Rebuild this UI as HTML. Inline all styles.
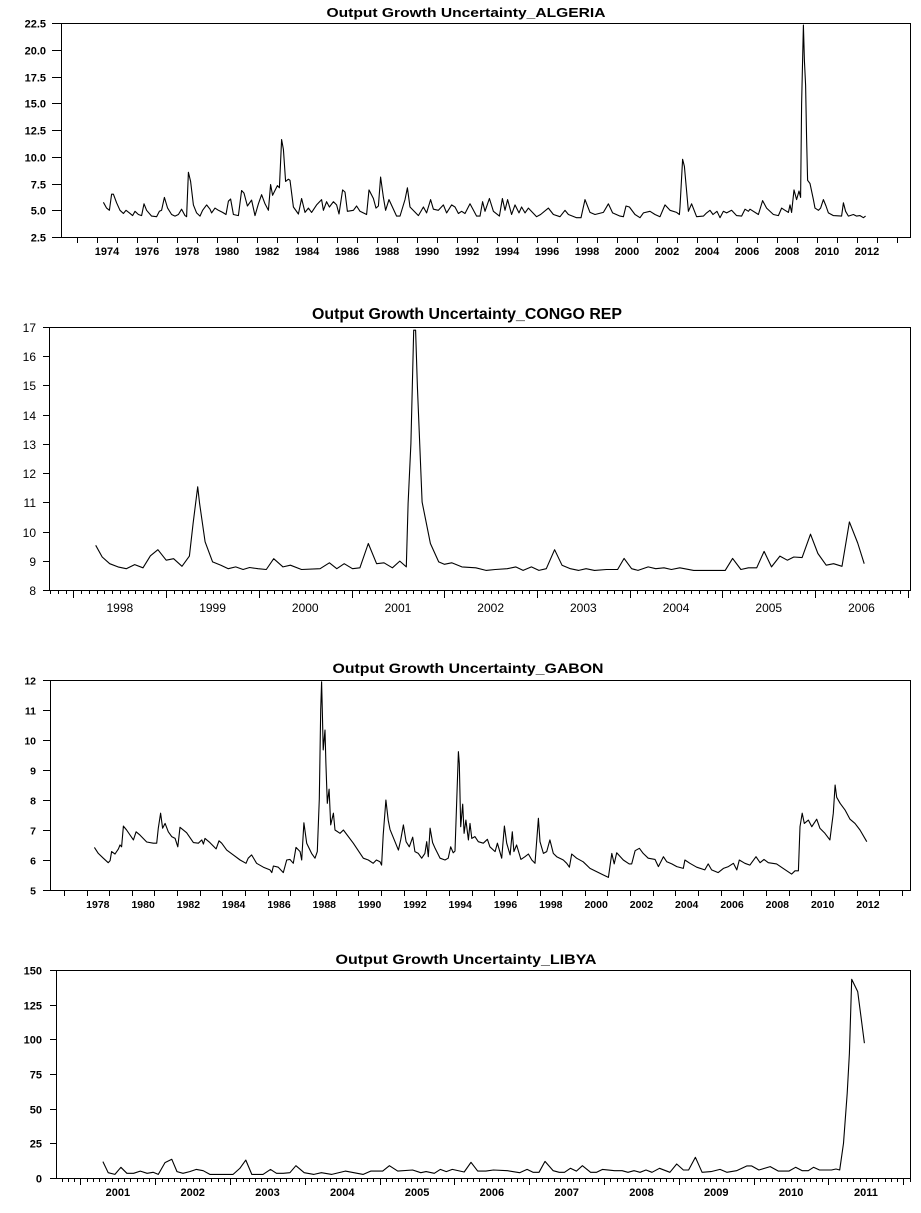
<!DOCTYPE html>
<html><head><meta charset="utf-8">
<style>
html,body{margin:0;padding:0;background:#fff;}
svg{display:block;font-family:"Liberation Sans",Arial,sans-serif;}
</style></head>
<body>
<svg id="chart" width="921" height="1213" viewBox="0 0 921 1213" xmlns="http://www.w3.org/2000/svg"></svg>
<script>
// ---------- ALGERIA ----------
const algeriaDates = [1973.82,1973.98,1974.12,1974.23,1974.32,1974.48,1974.65,1974.82,1974.95,1975.12,1975.28,1975.4,1975.57,1975.73,1975.85,1975.98,1976.23,1976.48,1976.62,1976.73,1976.87,1977.03,1977.23,1977.4,1977.57,1977.73,1977.9,1977.98,1978.07,1978.18,1978.32,1978.48,1978.65,1978.78,1978.98,1979.15,1979.23,1979.4,1979.57,1979.78,1979.95,1980.07,1980.18,1980.32,1980.57,1980.73,1980.85,1981.02,1981.23,1981.4,1981.57,1981.73,1981.9,1982.07,1982.18,1982.28,1982.52,1982.62,1982.73,1982.82,1982.93,1983.07,
1983.15,1983.32,1983.57,1983.73,1983.9,1984.07,1984.23,1984.48,1984.73,1984.82,1984.98,1985.12,1985.32,1985.48,1985.6,1985.78,1985.9,1986.02,1986.32,1986.48,1986.65,1986.98,1987.1,1987.32,1987.45,1987.57,1987.68,1987.82,1987.93,1988.1,1988.48,1988.65,1988.9,1989.02,1989.15,1989.57,1989.82,1989.98,1990.18,1990.32,1990.57,1990.82,1990.98,1991.23,1991.4,1991.57,1991.73,1991.9,1992.15,1992.48,1992.65,1992.78,1992.9,1993.12,1993.32,1993.62,1993.77,1993.9,1994.03,1994.23,1994.4,1994.6,1994.73,1994.9,1995.07,1995.48,1995.68,1996.07,1996.32,1996.65,1996.9,1997.07,1997.48,1997.7,1997.9,1998.15,1998.4,1998.82,1999.07,1999.28,1999.65,1999.82,1999.95,2000.12,2000.4,2000.65,2000.82,2001.15,2001.4,2001.65,2001.9,2002.15,2002.48,2002.62,2002.65,2002.78,2002.87,2002.98,2003.07,2003.23,2003.48,2003.82,2003.98,2004.15,
2004.3,2004.5,2004.65,2004.82,2004.98,2005.23,2005.48,2005.73,2005.9,2006.07,2006.15,2006.57,2006.78,2006.98,2007.32,2007.57,2007.73,2007.9,2008.07,2008.15,2008.23,2008.35,2008.48,2008.6,2008.68,2008.73,2008.82,2008.87,2008.93,2008.98,2009.03,2009.15,2009.32,2009.4,2009.57,2009.68,2009.82,2009.95,2010.07,2010.32,2010.73,2010.82,2010.93,2011.07,2011.32,2011.48,2011.65,2011.82,2011.93];
const algeriaValues = [5.74,5.2,5.0,6.5,6.5,5.7,5.0,4.7,5.0,4.75,4.5,4.9,4.6,4.5,5.6,5.0,4.45,4.4,4.9,5.0,6.2,5.2,4.6,4.45,4.6,5.1,4.5,4.4,8.55,7.7,5.5,4.75,4.45,5.0,5.5,5.1,4.75,5.2,5.0,4.8,4.6,5.85,6.05,4.6,4.5,6.85,6.6,5.4,5.95,4.5,5.6,6.45,5.6,5.0,7.4,6.4,7.3,7.1,11.6,10.7,7.7,7.9,
7.8,5.3,4.65,6.1,4.8,5.2,4.8,5.5,6.0,5.0,5.8,5.3,5.8,5.5,4.65,6.9,6.7,4.9,5.0,5.4,4.9,4.6,6.9,6.1,5.2,5.4,8.1,6.2,5.0,6.0,4.45,4.45,6.0,7.1,5.3,4.5,5.3,4.75,6.0,5.1,5.0,5.5,4.75,5.5,5.3,4.7,4.9,4.7,5.6,4.45,4.45,5.8,4.9,6.1,4.9,4.45,6.1,5.0,6.0,4.6,5.5,4.75,5.3,4.75,5.2,4.4,4.6,5.2,4.6,4.4,5.0,4.6,4.3,4.3,6.0,4.8,4.6,4.8,5.6,4.75,4.45,4.4,5.4,5.3,4.6,4.3,4.75,4.9,4.6,4.4,5.5,5.0,4.8,4.6,5.3,9.76,9.1,6.8,4.9,5.6,4.4,4.45,4.75,5.0,
4.6,4.9,4.3,4.9,4.75,5.0,4.5,4.45,5.1,4.9,5.1,4.6,5.9,5.2,4.6,4.5,5.2,5.0,4.8,5.5,4.8,6.9,6.0,6.8,6.2,14.9,22.3,19.0,16.7,11.7,7.8,7.5,6.0,5.2,5.0,5.2,6.0,5.4,4.75,4.5,4.45,5.7,4.9,4.45,4.6,4.45,4.5,4.3,4.45];
const algeriaYTicks = [2.5,5.0,7.5,10.0,12.5,15.0,17.5,20.0,22.5];
const algeriaXLabels = [1974,1976,1978,1980,1982,1984,1986,1988,1990,1992,1994,1996,1998,2000,2002,2004,2006,2008,2010,2012];

// ---------- CONGO REP ----------
const congoDates = [1998.24,1998.31,1998.39,1998.48,1998.57,1998.66,1998.75,1998.83,1998.91,1999.0,1999.08,1999.17,1999.25,1999.29,1999.34,1999.36,1999.42,1999.5,1999.59,1999.67,1999.75,1999.83,1999.9,1999.99,2000.08,2000.16,2000.26,
2000.34,2000.46,2000.66,2000.76,2000.84,2000.92,2001.01,2001.09,2001.18,2001.27,2001.35,2001.44,2001.52,2001.59,2001.61,2001.64,2001.67,2001.69,2001.71,2001.76,2001.85,2001.94,2002.0,2002.08,2002.19,2002.34,2002.45,2002.55,2002.68,2002.77,2002.85,2002.94,2003.02,2003.10,2003.19,2003.27,2003.36,2003.45,2003.53,2003.62,2003.75,2003.87,2003.94,2004.02,2004.09,2004.20,2004.28,2004.37,2004.45,2004.54,2004.69,2005.03,2005.11,2005.20,2005.28,2005.37,2005.45,2005.53,2005.62,2005.70,2005.77,2005.86,2005.95,2006.03,2006.12,2006.20,2006.29,2006.37,2006.46,2006.53];
const congoValues = [9.53,9.13,8.9,8.79,8.73,8.87,8.76,9.17,9.38,9.02,9.07,8.81,9.16,10.28,11.53,10.96,9.65,8.96,8.85,8.73,8.79,8.7,8.77,8.73,8.7,9.07,8.79,
8.85,8.70,8.73,8.93,8.73,8.90,8.73,8.76,9.59,8.90,8.93,8.76,8.99,8.79,10.96,13.01,16.89,16.89,14.95,11.01,9.59,8.96,8.88,8.93,8.79,8.76,8.67,8.70,8.73,8.79,8.67,8.79,8.67,8.73,9.38,8.85,8.73,8.67,8.73,8.67,8.70,8.70,9.08,8.73,8.67,8.79,8.73,8.76,8.70,8.76,8.67,8.67,9.08,8.70,8.76,8.76,9.32,8.79,9.16,9.02,9.13,9.11,9.91,9.25,8.85,8.90,8.81,10.33,9.61,8.90];
const congoYTicks = [8,9,10,11,12,13,14,15,16,17];
const congoXLabels = [1998,1999,2000,2001,2002,2003,2004,2005,2006];

// ---------- GABON ----------
const gabonDates = [1978.35,1978.52,1978.74,1978.96,1979.04,1979.11,1979.26,1979.41,1979.48,1979.55,1979.63,1979.77,1980.07,1980.19,1980.36,1980.66,1980.95,1981.1,1981.17,1981.27,1981.36,1981.47,1981.61,1981.76,1981.91,1982.03,1982.13,1982.42,1982.72,1982.94,1983.09,1983.16,1983.23,1983.45,1983.72,1983.85,1983.97,1984.19,1984.48,1984.78,1985.04,1985.14,1985.29,1985.51,1985.81,1986.1,1986.18,1986.25,1986.47,1986.69,1986.84,1986.98,1987.13,1987.25,1987.43,1987.5,1987.6,1987.72,1987.94,1988.09,1988.19,1988.28,1988.34,1988.38,1988.41,1988.45,1988.53,1988.57,1988.63,1988.71,1988.78,1988.9,1988.97,1989.19,1989.34,1989.78,1990.22,1990.44,1990.66,1990.8,1990.96,1991.03,1991.1,1991.22,1991.32,
1991.40,1991.62,1991.77,1991.87,1991.99,1992.11,1992.25,1992.40,1992.50,1992.65,1992.80,1992.94,1993.02,1993.09,1993.17,1993.28,1993.39,1993.61,1993.83,1993.97,1994.08,1994.19,1994.27,1994.42,1994.46,1994.52,1994.61,1994.67,1994.75,1994.86,1994.93,1995.01,1995.15,1995.30,1995.52,1995.70,1995.81,1996.04,1996.14,1996.33,1996.45,1996.55,1996.70,1996.80,1996.87,1996.99,1997.18,1997.36,1997.51,1997.66,1997.80,1997.95,1998.02,1998.17,1998.32,1998.46,1998.61,1998.76,1999.05,1999.20,1999.32,1999.42,1999.64,1999.93,2000.23,2000.53,2000.82,2001.04,2001.19,2001.30,2001.41,2001.70,2001.96,2002.07,2002.22,2002.41,2002.58,2002.80,2003.10,2003.25,2003.47,2003.62,2003.84,2004.06,2004.35,2004.42,2004.64,2004.94,2005.30,2005.45,2005.60,2005.89,2006.12,2006.34,2006.56,2006.71,2006.82,2007.07,2007.29,2007.56,2007.74,2007.91,2008.10,2008.47,2008.76,2009.13,2009.28,2009.43,2009.50,2009.60,2009.69,2009.87,2010.02,2010.24,2010.38,2010.60,2010.82,2010.97,2011.05,2011.12,2011.27,2011.49,2011.71,2011.93,2012.15,2012.45];
const gabonValues = [6.42,6.22,6.06,5.91,5.98,6.28,6.2,6.37,6.5,6.44,7.13,7.0,6.67,6.94,6.83,6.6,6.56,6.56,7.06,7.56,7.06,7.22,6.94,6.78,6.72,6.44,7.09,6.91,6.58,6.56,6.67,6.53,6.72,6.58,6.37,6.64,6.56,6.33,6.17,6.0,5.89,6.06,6.17,5.89,5.76,5.67,5.58,5.8,5.76,5.58,6.0,6.02,5.89,6.42,6.28,6.0,7.24,6.56,6.22,6.06,6.28,8.03,11.0,11.94,11.0,9.67,10.33,9.22,7.89,8.36,7.17,7.56,7.0,6.89,7.0,6.56,6.06,6.0,5.89,6.0,5.94,5.83,6.83,8.0,7.33,
7.02,6.61,6.33,6.67,7.17,6.61,6.44,6.76,6.28,6.22,6.06,6.22,6.61,6.11,7.06,6.58,6.39,6.06,6.0,6.06,6.44,6.24,6.3,9.61,9.22,7.11,7.86,6.89,7.33,6.67,7.22,6.72,6.78,6.61,6.56,6.69,6.44,6.28,6.56,6.06,7.13,6.56,6.17,6.94,6.28,6.5,6.02,6.11,6.2,6.0,5.89,7.39,6.61,6.22,6.28,6.67,6.22,6.11,6.0,5.89,5.76,6.2,6.06,5.94,5.72,5.61,5.5,5.42,6.22,5.87,6.24,6.0,5.87,5.87,6.31,6.39,6.22,6.06,6.02,5.78,6.11,5.94,5.87,5.78,5.72,6.0,5.89,5.76,5.67,5.87,5.67,5.58,5.72,5.78,5.89,5.67,6.0,5.89,5.83,6.11,5.91,6.02,5.91,5.87,5.72,5.53,5.64,5.64,7.11,7.56,7.22,7.33,7.11,7.36,7.06,6.89,6.67,7.56,8.5,8.09,7.89,7.67,7.36,7.22,7.0,6.61];
const gabonYTicks = [5,6,7,8,9,10,11,12];
const gabonXLabels = [1978,1980,1982,1984,1986,1988,1990,1992,1994,1996,1998,2000,2002,2004,2006,2008,2010,2012];

// ---------- LIBYA ----------
const libyaDates = [2001.30,2001.37,2001.46,2001.54,2001.62,2001.71,2001.80,2001.89,2001.97,2002.04,2002.13,2002.22,2002.29,2002.37,2002.46,2002.55,2002.64,2002.73,2002.86,2002.95,2003.04,2003.13,2003.21,2003.29,2003.44,2003.54,2003.62,2003.71,2003.80,2003.88,2003.99,2004.12,2004.22,2004.36,2004.54,2004.78,2004.88,2005.04,2005.13,2005.24,2005.44,2005.55,2005.62,2005.73,2005.81,2005.89,2005.97,2006.13,2006.22,2006.31,2006.42,2006.52,2006.71,2006.87,2006.97,2007.05,2007.13,2007.21,2007.32,2007.40,2007.47,2007.55,2007.63,2007.71,2007.82,2007.90,2007.98,2008.14,2008.24,2008.32,2008.40,2008.48,2008.56,2008.64,2008.74,2008.88,2008.97,2009.06,2009.13,2009.22,2009.31,2009.43,2009.55,2009.64,2009.77,2009.91,2009.97,2010.07,2010.22,2010.33,2010.47,2010.56,2010.65,2010.73,2010.80,2010.88,2011.04,2011.10,2011.15,2011.20,2011.25,2011.28,2011.31,2011.39,2011.44,2011.48];
const libyaValues = [11.8,3.8,2.6,7.7,3.4,3.4,5.0,3.4,4.1,2.6,11.1,13.5,4.6,3.4,4.6,6.2,5.3,2.6,2.6,2.6,2.6,6.9,12.9,2.6,2.6,6.2,3.4,3.4,3.8,8.9,3.8,2.6,3.8,2.6,5.0,2.6,5.0,5.0,8.9,5.0,5.8,3.8,4.6,3.4,6.2,4.6,6.2,4.3,11.3,5.0,5.0,5.8,5.3,3.8,6.2,4.1,4.1,12.0,5.3,4.1,4.1,7.0,5.0,8.9,4.1,4.1,6.2,5.3,5.3,4.1,5.3,4.1,5.8,4.1,7.0,4.1,10.1,5.8,5.8,14.9,4.1,4.6,6.2,4.1,5.3,8.7,8.7,5.8,8.2,5.0,5.0,7.7,5.3,5.3,7.7,5.8,5.8,6.5,5.8,25.0,61.1,89.9,143.3,134.4,114.0,97.2];
const libyaYTicks = [0,25,50,75,100,125,150];
const libyaXLabels = [2001,2002,2003,2004,2005,2006,2007,2008,2009,2010,2011];

const NS = 'http://www.w3.org/2000/svg';
const svg = document.getElementById('chart');
function mk(tag, attrs, parent){
  const e = document.createElementNS(NS, tag);
  for (const k in attrs) e.setAttribute(k, attrs[k]);
  (parent||svg).appendChild(e);
  return e;
}

function drawPanel(p, dates, values, yTicks, xLabels){
  const g = mk('g', {});
  
  
  const yS = v => p.bottom - (v - p.ymin) / (p.ymax - p.ymin) * (p.bottom - p.top);
  const xS = t => p.x0 + (t - p.t0) * p.pxYear;

  const title = mk('text', {x: p.titleX, y: p.titleY, 'text-anchor':'middle', 'font-size': p.titleSize, 'font-weight':'bold', fill:'#000', textLength: p.titleLen, lengthAdjust:'spacingAndGlyphs'}, g);
  title.textContent = p.title;
  
  

  const box = mk('rect', {x: p.left + 0.5, y: p.top + 0.5, width: p.right - p.left, height: p.bottom - p.top, fill:'none', stroke:'#000', 'stroke-width':1}, g);
  
  

  yTicks.forEach(v => {
    const y = Math.round(yS(v)) + 0.5;
    mk('line', {x1: p.left - p.ytickLen, x2: p.left, y1: y, y2: y, stroke:'#000'}, g);
    const t = mk('text', {x: p.ylabRight, y: y + p.labSize*0.36, 'text-anchor':'end', 'font-size': p.labSize, 'font-weight': p.labWeight, fill:'#000'}, g);
    t.textContent = p.yFmt(v);
    
    
  });

  // x ticks
  for (let t = p.tickStart; t <= p.tickEnd + 1e-6; t += p.tickStep) {
    const x = xS(t);
    if (x < p.left || x > p.right) continue;
    const major = p.majorEvery ? Math.abs(t - Math.round(t)) < 1e-6 : true;
    const xx = Math.round(x) + 0.5;
    mk('line', {x1: xx, x2: xx, y1: p.bottom, y2: p.bottom + (major ? p.majorLen : p.minorLen), stroke:'#000'}, g);
  }
  xLabels.forEach(yr => {
    const t = mk('text', {x: xS(yr + p.labelOffset), y: p.xlabY, 'text-anchor':'middle', 'font-size': p.labSize, 'font-weight': p.labWeight, fill:'#000'}, g);
    t.textContent = yr;
    
    
  });

  let d = '';
  dates.forEach((t, i) => { d += (i ? 'L' : 'M') + xS(t).toFixed(1) + ',' + yS(values[i]).toFixed(1); });
  const line = mk('path', {d: d, fill:'none', stroke:'#000', 'stroke-width':1.1, 'stroke-linejoin':'round'}, g);
  
  
}

drawPanel({name:'algeria', title:'Output Growth Uncertainty_ALGERIA', titleX:466, titleY:17, titleSize:13, titleLen:279,
  left:61, right:910, top:23, bottom:237, ymin:2.5, ymax:22.5, x0:107, t0:1974, pxYear:20,
  ytickLen:9, ylabRight:46, labSize:11, labWeight:'bold', yFmt:v=>v.toFixed(1),
  tickStart:1972.5, tickEnd:2014.5, tickStep:1, majorEvery:false, majorLen:6, minorLen:6, labelOffset:0, xlabY:255},
  algeriaDates, algeriaValues, algeriaYTicks, algeriaXLabels);

drawPanel({name:'congo', title:'Output Growth Uncertainty_CONGO REP', titleX:467, titleY:319, titleSize:16, titleLen:310,
  left:49, right:910, top:327, bottom:590, ymin:8, ymax:17, x0:73.5, t0:1998, pxYear:92.7,
  ytickLen:6, ylabRight:36, labSize:12, labWeight:'normal', yFmt:v=>String(v),
  tickStart:1997, tickEnd:2007.1, tickStep:1/12, majorEvery:true, majorLen:8, minorLen:4, labelOffset:0.5, xlabY:612},
  congoDates, congoValues, congoYTicks, congoXLabels);

drawPanel({name:'gabon', title:'Output Growth Uncertainty_GABON', titleX:468, titleY:673, titleSize:14, titleLen:271,
  left:50, right:910, top:680, bottom:890, ymin:5, ymax:12, x0:86.5, t0:1978, pxYear:22.65,
  ytickLen:7, ylabRight:36, labSize:10.5, labWeight:'bold', yFmt:v=>String(v),
  tickStart:1976, tickEnd:2014, tickStep:1, majorEvery:false, majorLen:6, minorLen:6, labelOffset:0.5, xlabY:908},
  gabonDates, gabonValues, gabonYTicks, gabonXLabels);

drawPanel({name:'libya', title:'Output Growth Uncertainty_LIBYA', titleX:466, titleY:964, titleSize:14, titleLen:261,
  left:56, right:910, top:970, bottom:1178, ymin:0, ymax:150, x0:80.5, t0:2001, pxYear:74.8,
  ytickLen:6, ylabRight:42, labSize:11, labWeight:'bold', yFmt:v=>String(v),
  tickStart:2000, tickEnd:2012.5, tickStep:1/12, majorEvery:true, majorLen:7, minorLen:4, labelOffset:0.5, xlabY:1196},
  libyaDates, libyaValues, libyaYTicks, libyaXLabels);
</script>
</body></html>
